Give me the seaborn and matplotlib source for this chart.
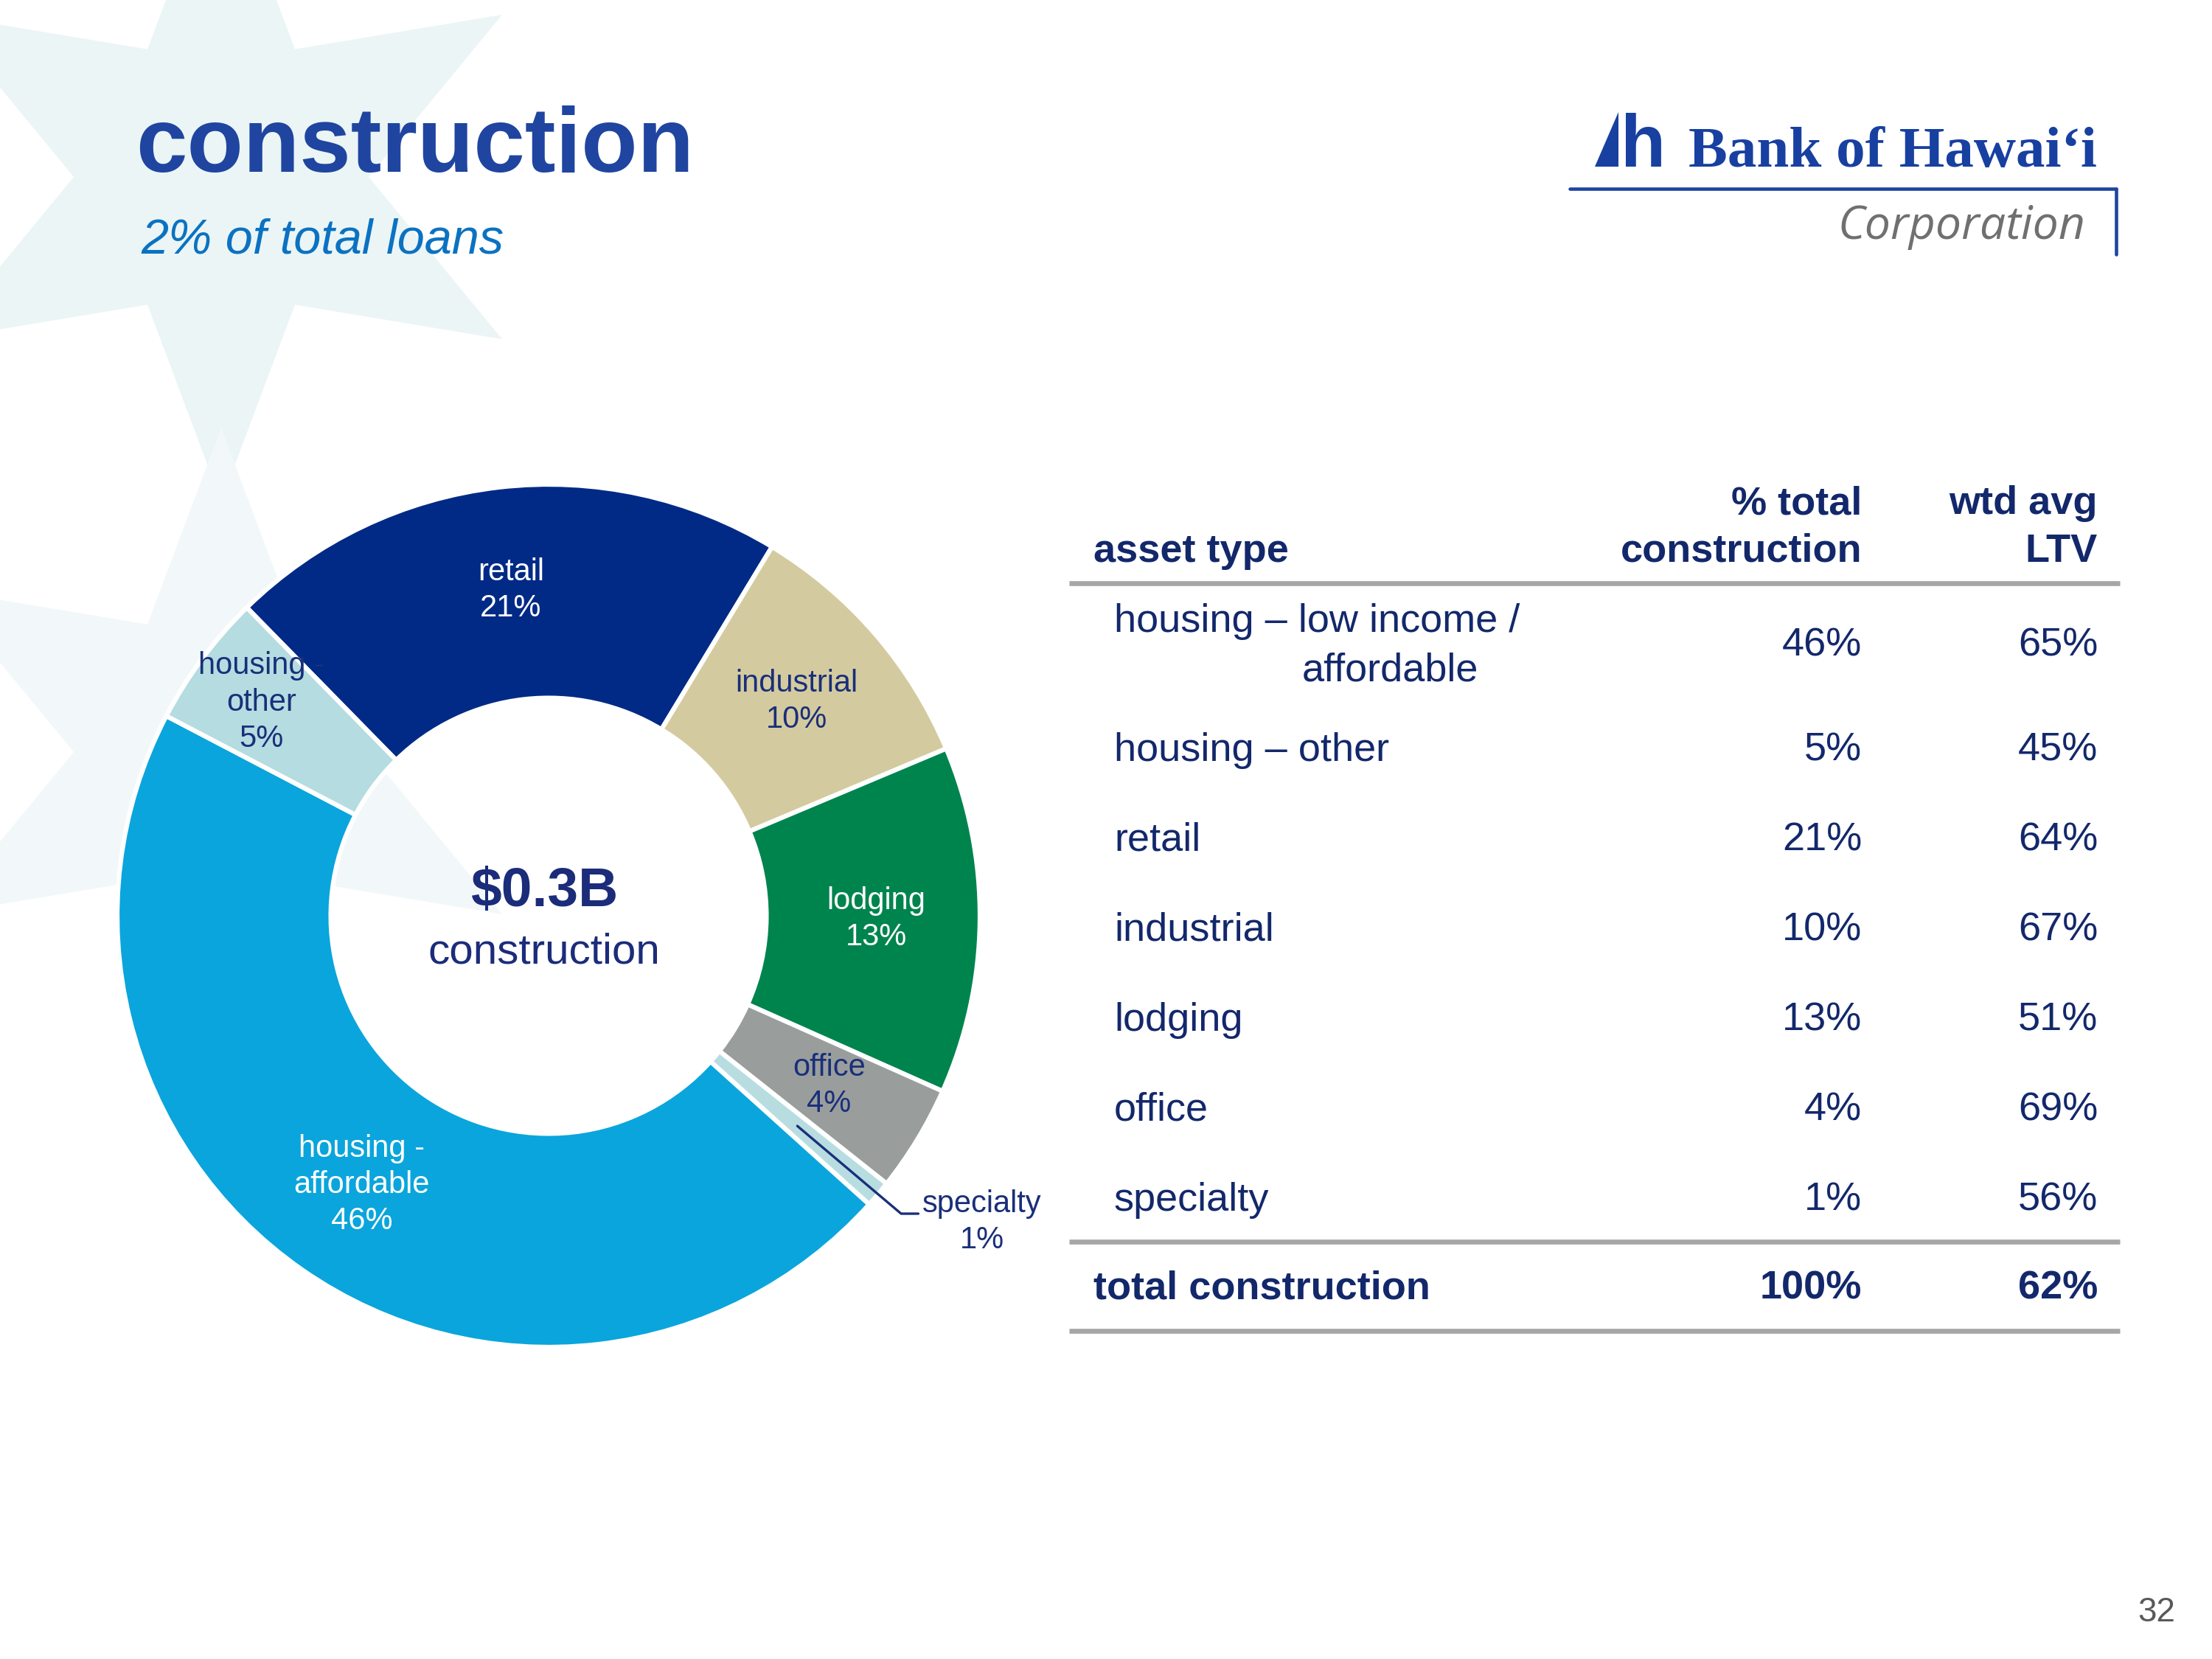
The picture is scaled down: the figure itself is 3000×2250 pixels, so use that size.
import numpy as np
import matplotlib
matplotlib.use("Agg")
import matplotlib.pyplot as plt
from matplotlib.patches import Polygon
import seaborn as sns

# donut data (clockwise from top-left)
donut_names = ['retail', 'industrial', 'lodging', 'office', 'specialty',
               'housing -\naffordable', 'housing -\nother']
donut_values = [21, 10, 13, 4, 1, 46, 5]
donut_colors = ['#002A86', '#D3CB9F', '#00844E', '#999E9C', '#B7DDE1',
                '#0AA5DC', '#B5DCE0']
donut_text_colors = ['white', '#1A2F7A', 'white', '#1A2F7A', '#1A2F7A',
                     'white', '#1A2F7A']

# table data
asset_types = ['housing – low income /\naffordable', 'housing – other', 'retail',
               'industrial', 'lodging', 'office', 'specialty']
pct_total = [46, 5, 21, 10, 13, 4, 1]
wtd_ltv = [65, 45, 64, 67, 51, 69, 56]
total_pct = 100
total_ltv = 62

NAVY = '#13286B'
TITLE_BLUE = '#1F45A0'

sns.set_theme(style='white')
plt.rcParams['font.family'] = ['Liberation Sans', 'DejaVu Sans']

fig = plt.figure(figsize=(10, 7.5), dpi=300)
fig.patch.set_facecolor('white')

# full-page axes in pixel coords (y down)
bg = fig.add_axes([0, 0, 1, 1])
bg.set_xlim(0, 3000)
bg.set_ylim(2250, 0)
bg.axis('off')

#faint stars in the background
def star(cx, cy, r_out, r_in, n=6, rot=0):
    pts = []
    for k in range(2 * n):
        r = r_out if k % 2 == 0 else r_in
        a = np.deg2rad(rot + k * 180 / n)
        pts.append((cx + r * np.cos(a), cy - r * np.sin(a)))
    return pts

bg.add_patch(Polygon(star(300, 240, 440, 200, rot=90), closed=True,
                     facecolor='#EBF5F6', edgecolor='none', zorder=0))
bg.add_patch(Polygon(star(300, 1020, 440, 200, rot=90), closed=True,
                     facecolor='#F2F8F9', edgecolor='none', zorder=0))

# title
bg.text(184, 233, 'construction', fontsize=30, fontweight='bold', color=TITLE_BLUE,
        ha='left', va='baseline')
bg.text(191, 344, '2% of total loans', fontsize=16, style='italic', color='#0B72C1',
        ha='left', va='baseline')

# logo
bg.add_patch(Polygon([(2163, 226), (2195, 152), (2195, 226)], closed=True,
                     facecolor='#1740A0', edgecolor='none'))
bg.text(2198, 226, 'h', fontsize=24, fontweight='bold',
        color='#1740A0', ha='left', va='baseline')
bg.text(2290, 226, 'Bank of Hawaiʻi', fontsize=19, fontweight='bold',
        family=['Liberation Serif', 'DejaVu Serif'], color='#1740A0',
        ha='left', va='baseline')
bg.plot([2129, 2870], [256, 256], color='#1F45A0', lw=1.1)
bg.plot([2870, 2870], [256, 345], color='#1F45A0', lw=1.1)
bg.text(2828, 308, 'Corporation', fontsize=15, style='italic', family='Open Sans',
        color='#707070', ha='right', va='center')

# table
x_left, x_right = 1450, 2875
x_label, x_pct, x_ltv = 1483, 2525, 2845
bg.text(x_label, 748, 'asset type', fontsize=13, fontweight='bold', color=NAVY,
        ha='left', va='center')
bg.text(x_pct, 683, '% total', fontsize=13, fontweight='bold', color=NAVY, ha='right', va='center')
bg.text(x_pct, 748, 'construction', fontsize=13, fontweight='bold', color=NAVY, ha='right', va='center')
bg.text(x_ltv, 683, 'wtd avg', fontsize=13, fontweight='bold', color=NAVY, ha='right', va='center')
bg.text(x_ltv, 748, 'LTV', fontsize=13, fontweight='bold', color=NAVY, ha='right', va='center')
bg.plot([x_left, x_right], [791, 791], color='#A6A6A6', lw=1.6, solid_capstyle='butt')

row_y = [876] + [1018 + 122 * (i - 1) for i in range(1, len(asset_types))]
for i, (name, p, l) in enumerate(zip(asset_types, pct_total, wtd_ltv)):
    y = row_y[i]
    lines = name.split('\n')
    if len(lines) == 2:
        bg.text(1511, y - 33, lines[0], fontsize=13, color=NAVY, ha='left', va='center')
        bg.text(1766, y + 33, lines[1], fontsize=13, color=NAVY, ha='left', va='center')
    else:
        bg.text(1511, y, name, fontsize=13, color=NAVY, ha='left', va='center')
    bg.text(x_pct, y, f'{p}%', fontsize=13, color=NAVY, ha='right', va='center')
    bg.text(x_ltv, y, f'{l}%', fontsize=13, color=NAVY, ha='right', va='center')

bg.plot([x_left, x_right], [1684, 1684], color='#A6A6A6', lw=1.6, solid_capstyle='butt')
bg.text(x_label, 1747, 'total construction', fontsize=13, fontweight='bold', color=NAVY,
        ha='left', va='center')
bg.text(x_pct, 1747, f'{total_pct}%', fontsize=13, fontweight='bold', color=NAVY,
        ha='right', va='center')
bg.text(x_ltv, 1747, f'{total_ltv}%', fontsize=13, fontweight='bold', color=NAVY,
        ha='right', va='center')
bg.plot([x_left, x_right], [1805, 1805], color='#A6A6A6', lw=1.6, solid_capstyle='butt')

# page number
bg.text(2950, 2187, '32', fontsize=11, color='#595959', ha='right', va='center')

# donut
cx, cy, R = 744, 1242, 585
ax = fig.add_axes([(cx - R) / 3000, 1 - (cy + R) / 2250, 2 * R / 3000, 2 * R / 2250])
wedges, _ = ax.pie(donut_values, colors=donut_colors, startangle=134.4, counterclock=False,
                   radius=1, wedgeprops=dict(width=0.495, edgecolor='white', linewidth=1.5))
ax.set_xlim(-1, 1)
ax.set_ylim(-1, 1)
ax.axis('off')

for w, name, v, tc in zip(wedges, donut_names, donut_values, donut_text_colors):
    mid = np.deg2rad((w.theta1 + w.theta2) / 2)
    label = f'{name}\n{v}%'
    if name == 'specialty':
        p0 = (0.755 * np.cos(mid), 0.755 * np.sin(mid))
        p1 = (1.07 * np.cos(mid), 1.07 * np.sin(mid))
        ax.plot([p0[0], p1[0], p1[0] + 0.04], [p0[1], p1[1], p1[1]],
                color='#1A2F7A', lw=0.8, clip_on=False)
        ax.text(1.005, -0.71, label, fontsize=10, color=tc, ha='center', va='center',
                linespacing=1.3)
        continue
    r = 0.83 if name.endswith('other') else 0.76
    ax.text(r * np.cos(mid), r * np.sin(mid), label, fontsize=10, color=tc,
            ha='center', va='center', linespacing=1.3)

ax.text(-0.01, 0.055, '$0.3B', fontsize=18, fontweight='bold', color='#1B2C7A',
        ha='center', va='center')
ax.text(-0.01, -0.085, 'construction', fontsize=14, color='#1B2C7A',
        ha='center', va='center')

plt.savefig('out.png', dpi=300)
